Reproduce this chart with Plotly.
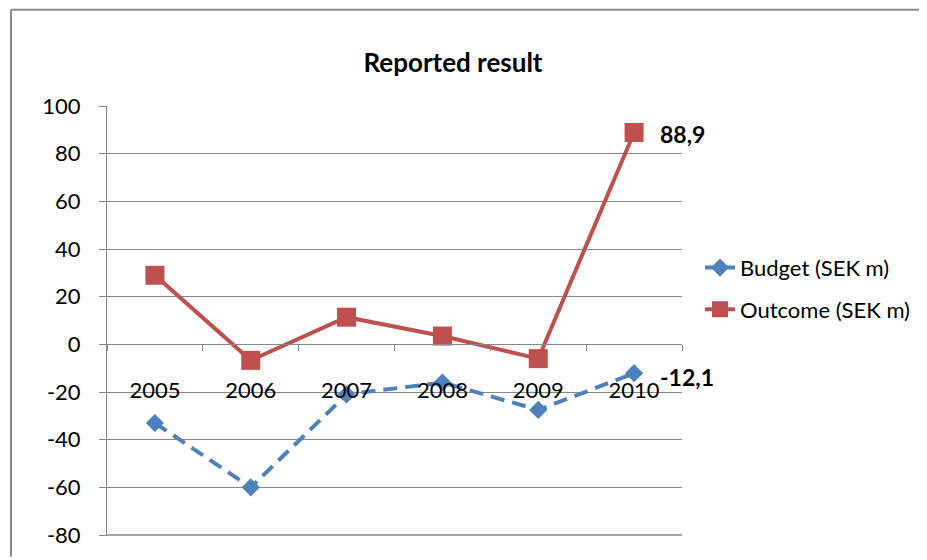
import plotly.graph_objects as go

years = ["2005", "2006", "2007", "2008", "2009", "2010"]
budget = [-33.0, -60.0, -21.0, -16.0, -27.5, -12.1]
outcome = [29.0, -6.7, 11.4, 3.5, -6.0, 88.9]
budget_label = "-12,1"
outcome_label = "88,9"
y_ticks = [-80, -60, -40, -20, 0, 20, 40, 60, 80, 100]

FONT = "Lato, sans-serif"
GRID = "#888888"

# page body has an 8px margin; work in reference pixel coords and shift
OFF = 8
W, H = 927 - OFF, 560 - OFF
L, R, T, B = 107 - OFF, 682 - OFF, 106 - OFF, 539 - OFF
pw, ph = R - L, B - T

def px(x):
    return (x - OFF - L) / pw

def py(y):
    return (B - (y - OFF)) / ph

fig = go.Figure()
fig.add_trace(go.Scatter(
    x=years, y=budget, name="Budget (SEK m)", mode="lines+markers",
    legendgroup="b",
    line=dict(color="#4F81BD", width=4, dash="14px,8px"),
    marker=dict(symbol="diamond", size=14, color="#4F81BD"),
    cliponaxis=False,
))
fig.add_trace(go.Scatter(
    x=years, y=outcome, name="Outcome (SEK m)", mode="lines+markers",
    legendgroup="o",
    line=dict(color="#C0504D", width=4),
    marker=dict(symbol="square", size=19, color="#C0504D"),
    cliponaxis=False,
))

last = len(years) - 1
fig.add_annotation(x=last, y=outcome[-1], xref="x", yref="y",
                   text="<b>" + outcome_label + "</b>",
                   showarrow=False, xanchor="left", yanchor="middle", xshift=24, yshift=-2,
                   font=dict(family=FONT, size=23, color="black"))
fig.add_annotation(x=last, y=budget[-1], xref="x", yref="y",
                   text="<b>" + budget_label + "</b>",
                   showarrow=False, xanchor="left", yanchor="middle", xshift=24, yshift=-4,
                   font=dict(family=FONT, size=23, color="black"))

fig.update_layout(
    width=W, height=H,
    margin=dict(l=L, r=W - R, t=T, b=H - B, pad=0),
    paper_bgcolor="white", plot_bgcolor="white",
    font=dict(family=FONT, size=22, color="black"),
    title=dict(text="<b>Reported result</b>", x=(453 - OFF) / W,
               xanchor="center", y=1 - (63 - OFF) / H, yanchor="middle",
               font=dict(family=FONT, size=26, color="black")),
    showlegend=True,
    legend=dict(x=px(700), y=py(290), xanchor="left", yanchor="middle",
                font=dict(family=FONT, size=22, color="black"),
                bgcolor="rgba(0,0,0,0)", tracegroupgap=10),
    xaxis=dict(
        type="category", range=[-0.5, 5.5],
        anchor="free", position=py(346),
        showline=True, linecolor=GRID, linewidth=1,
        ticks="outside", ticklen=6, tickcolor=GRID, tickson="boundaries",
        showgrid=False, zeroline=False,
        ticklabelstandoff=26,
        tickfont=dict(family=FONT, size=22, color="black"),
        layer="above traces",
    ),
    xaxis2=dict(
        overlaying="x", anchor="y", side="bottom", range=[0, 1],
        showline=True, linecolor=GRID, linewidth=1,
        showticklabels=False, ticks="", showgrid=False, zeroline=False,
    ),
    yaxis=dict(
        range=[-80.4, 100], tickvals=y_ticks, ticktext=[str(v) for v in y_ticks],
        showline=True, linecolor=GRID, linewidth=1,
        ticks="outside", ticklen=7, tickcolor=GRID,
        showgrid=True, gridcolor=GRID, gridwidth=1, zeroline=False,
        ticklabelstandoff=14,
        tickfont=dict(family=FONT, size=22, color="black"),
    ),
    shapes=[
        dict(type="line", xref="paper", yref="y",
             x0=0, x1=1, y0=y_ticks[0], y1=y_ticks[0],
             line=dict(color=GRID, width=1.5), layer="above"),
        dict(type="line", xref="paper", yref="paper",
             x0=px(11), x1=px(927), y0=py(9), y1=py(9),
             line=dict(color="#8c8c8c", width=2)),
        dict(type="line", xref="paper", yref="paper",
             x0=px(11), x1=px(11), y0=py(9), y1=py(560),
             line=dict(color="#8c8c8c", width=2)),
    ],
)

fig.write_html("out.html")
